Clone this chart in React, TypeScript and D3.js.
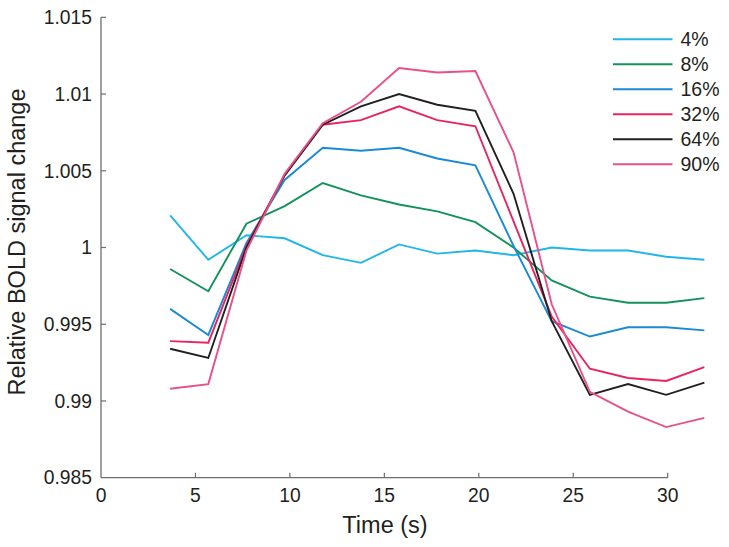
import React from "react";
import * as d3 from "d3";

const times = [3.66, 5.68, 7.7, 9.72, 11.74, 13.76, 15.78, 17.8, 19.82, 21.84, 23.86, 25.88, 27.9, 29.92, 31.94];

const s4 = [1.0021, 0.9992, 1.0008, 1.0006, 0.9995, 0.999, 1.0002, 0.9996, 0.9998, 0.9995, 1.0, 0.9998, 0.9998, 0.9994, 0.9992];
const s8 = [0.9986, 0.99715, 1.00155, 1.0027, 1.0042, 1.0034, 1.0028, 1.00235, 1.00165, 1.0, 0.99785, 0.9968, 0.9964, 0.9964, 0.9967];
const s16 = [0.996, 0.9943, 1.0003, 1.0044, 1.0065, 1.0063, 1.0065, 1.0058, 1.00535, 1.0001, 0.9952, 0.9942, 0.9948, 0.9948, 0.9946];
const s32 = [0.9939, 0.9938, 1.0001, 1.0047, 1.008, 1.0083, 1.0092, 1.0083, 1.0079, 1.0017, 0.9955, 0.9921, 0.9915, 0.9913, 0.9922];
const s64 = [0.9934, 0.9928, 1.0, 1.0047, 1.008, 1.0092, 1.01, 1.0093, 1.0089, 1.0035, 0.9952, 0.9904, 0.9911, 0.9904, 0.9912];
const s90 = [0.9908, 0.9911, 0.9998, 1.0048, 1.0081, 1.0095, 1.0117, 1.0114, 1.0115, 1.0062, 0.9963, 0.9906, 0.9893, 0.9883, 0.9889];

const seriesNames = ["4%", "8%", "16%", "32%", "64%", "90%"];
const seriesValues = [s4, s8, s16, s32, s64, s90];
const seriesColors = ["#20b6e8", "#12925a", "#1a8ad4", "#e8245e", "#231f20", "#e9508a"];

const xTicks = [0, 5, 10, 15, 20, 25, 30];
const yTicks = [0.985, 0.99, 0.995, 1, 1.005, 1.01, 1.015];

const FONT = "'Liberation Sans', Arial, Helvetica, sans-serif";
const AXIS = "#6d6e71";
const TEXT = "#231f20";

export default function App() {
  const x = d3.scaleLinear().domain([0, 30]).range([101, 667.7]);
  const y = d3.scaleLinear().domain([0.985, 1.015]).range([477.7, 17.3]);
  const line = d3
    .line<[number, number]>()
    .x((d) => x(d[0]))
    .y((d) => y(d[1]));

  const x0 = x(0);
  const y0 = y(0.985);

  return (
    <svg
      width={729}
      height={547}
      style={{ position: "absolute", left: 0, top: 0, background: "#fff" }}
      fontFamily={FONT}
    >
      <rect width={729} height={547} fill="#fff" />
      {/* axes */}
      <line x1={x0} x2={x(30)} y1={y0} y2={y0} stroke={AXIS} strokeWidth={1.3} />
      <line x1={x0} x2={x0} y1={y0} y2={y(1.015)} stroke={AXIS} strokeWidth={1.3} />
      {xTicks.map((t) => (
        <g key={"xt" + t}>
          {t !== 0 && (
            <line x1={x(t)} x2={x(t)} y1={y0} y2={y0 - 5} stroke={AXIS} strokeWidth={1.2} />
          )}
          <text x={x(t)} y={501.5} textAnchor="middle" fontSize={19.3} fill={TEXT}>
            {t}
          </text>
        </g>
      ))}
      {yTicks.map((t) => (
        <g key={"yt" + t}>
          {t !== 0.985 && (
            <line x1={x0} x2={x0 + 5} y1={y(t)} y2={y(t)} stroke={AXIS} strokeWidth={1.2} />
          )}
          <text
            x={92}
            y={y(t)}
            dy="0.35em"
            textAnchor="end"
            fontSize={19.3}
            fill={TEXT}
          >
            {String(t)}
          </text>
        </g>
      ))}
      <text x={385} y={533} textAnchor="middle" fontSize={23.5} fill={TEXT}>
        Time (s)
      </text>
      <text
        transform={`translate(25,242) rotate(-90)`}
        textAnchor="middle"
        fontSize={23.5}
        fill={TEXT}
      >
        Relative BOLD signal change
      </text>
      {/* series */}
      {seriesValues.map((vals, i) => (
        <path
          key={seriesNames[i]}
          d={line(vals.map((v, j) => [times[j], v]) as [number, number][]) || ""}
          fill="none"
          stroke={seriesColors[i]}
          strokeWidth={1.9}
          strokeLinejoin="miter"
        />
      ))}
      {/* legend */}
      {seriesNames.map((n, i) => {
        const ly = 39.3 + i * 25;
        return (
          <g key={"lg" + n}>
            <line x1={613} x2={672.5} y1={ly} y2={ly} stroke={seriesColors[i]} strokeWidth={1.9} />
            <text x={680.5} y={ly} dy="0.36em" fontSize={19.5} fill={TEXT}>
              {n}
            </text>
          </g>
        );
      })}
    </svg>
  );
}
